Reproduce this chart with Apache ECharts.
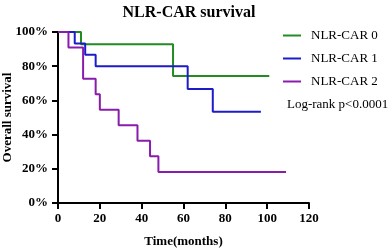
<!DOCTYPE html>
<html>
<head>
<meta charset="utf-8">
<script src="https://cdn.jsdelivr.net/npm/echarts@6/dist/echarts.min.js"></script>
<style>
  html, body { margin: 0; padding: 0; background: #fff; }
  #chart { width: 392px; height: 249px; }
</style>
</head>
<body>
<div id="chart"></div>
<script>
// Kaplan-Meier steps (months, % surviving)
const groupNames = ['NLR-CAR 0', 'NLR-CAR 1', 'NLR-CAR 2'];
const groupColors = ['#228B22', '#1C1CC8', '#8A1CAC'];

const time0 = [0, 11, 55, 101];
const surv0 = [100, 92.9, 74.3, 74.3];

const time1 = [0, 8, 13, 18, 62, 74, 97];
const surv1 = [100, 93.3, 86.7, 80, 66.7, 53.3, 53.3];

const time2 = [0, 5, 12, 18, 20, 29, 38, 44, 48, 109];
const surv2 = [100, 90.9, 72.7, 63.6, 54.5, 45.5, 36.4, 27.3, 18.2, 18.2];

const xTicks = [0, 20, 40, 60, 80, 100, 120];
const yTicks = [0, 20, 40, 60, 80, 100];

const serif = '"Liberation Serif", "Times New Roman", serif';

function pairs(t, s) {
  return t.map((v, i) => [v, s[i]]);
}

const chart = echarts.init(document.getElementById('chart'));

const curves = [pairs(time0, surv0), pairs(time1, surv1), pairs(time2, surv2)];

const option = {
  animation: false,
  textStyle: { fontFamily: serif },
  title: {
    text: 'NLR-CAR survival',
    left: 184,
    textAlign: 'center',
    top: 0,
    textStyle: { fontFamily: serif, fontWeight: 'bold', fontSize: 16, color: '#000' }
  },
  legend: {
    orient: 'vertical',
    left: 278,
    top: 24,
    itemWidth: 18,
    itemHeight: 2,
    itemGap: 10,
    icon: 'rect',
    textStyle: { fontFamily: serif, fontSize: 13, color: '#000', padding: [0, 0, 0, 5] },
    data: groupNames
  },
  graphic: [{
    type: 'text',
    left: 287,
    top: 98,
    style: { text: 'Log-rank p<0.0001', font: '13px ' + serif, fill: '#000' }
  }],
  grid: { left: 58, right: 83, top: 32, bottom: 46, containLabel: false, outerBoundsMode: 'none' },
  xAxis: {
    type: 'value',
    min: xTicks[0],
    max: xTicks[xTicks.length - 1],
    interval: 20,
    name: 'Time(months)',
    nameLocation: 'middle',
    nameGap: 32,
    nameMoveOverlap: false,
    nameTextStyle: { fontFamily: serif, fontWeight: 'bold', fontSize: 13, color: '#000' },
    axisLine: { lineStyle: { color: '#000', width: 2 } },
    axisTick: { show: true, length: 6, lineStyle: { color: '#000', width: 2 } },
    axisLabel: { fontFamily: serif, fontWeight: 'bold', fontSize: 13, color: '#000', margin: 9 },
    splitLine: { show: false }
  },
  yAxis: {
    type: 'value',
    min: yTicks[0],
    max: yTicks[yTicks.length - 1],
    interval: 20,
    name: 'Overall survival',
    nameLocation: 'middle',
    nameGap: 44,
    nameMoveOverlap: false,
    nameTextStyle: { fontFamily: serif, fontWeight: 'bold', fontSize: 13, color: '#000' },
    axisLine: { show: true, lineStyle: { color: '#000', width: 2 } },
    axisTick: { show: true, length: 6, lineStyle: { color: '#000', width: 2 } },
    axisLabel: { formatter: '{value}%', fontFamily: serif, fontWeight: 'bold', fontSize: 13, color: '#000', margin: 10 },
    splitLine: { show: false }
  },
  series: curves.map((d, i) => ({
    name: groupNames[i],
    type: 'line',
    step: 'end',
    data: d,
    symbol: 'none',
    color: groupColors[i],
    lineStyle: { width: 2, color: groupColors[i] }
  }))
};

chart.setOption(option);
window.onresize = () => {
  chart.resize();
};
</script>
</body>
</html>
